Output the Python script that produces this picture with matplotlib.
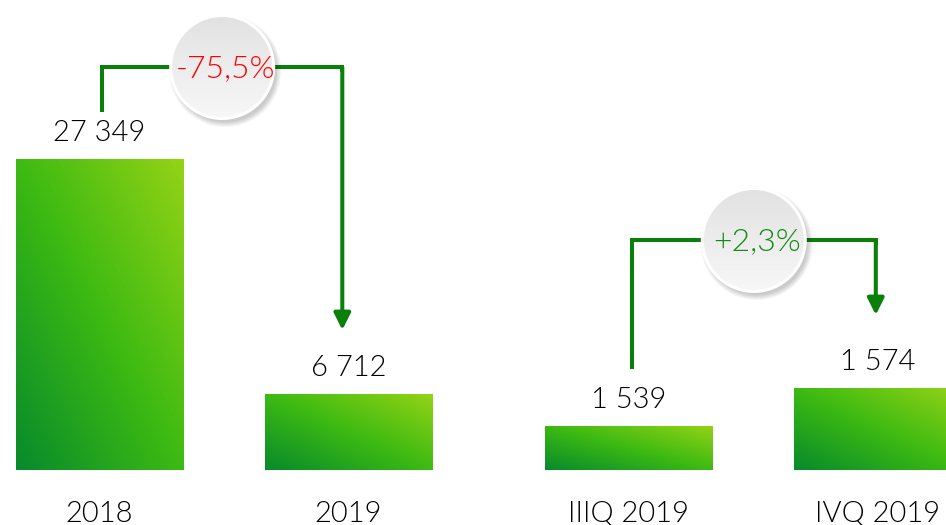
import numpy as np
import matplotlib
matplotlib.use("Agg")
import matplotlib.pyplot as plt
from matplotlib.colors import LinearSegmentedColormap
from matplotlib.patches import Circle

# ---- data ----
categories = ["2018", "2019", "IIIQ 2019", "IVQ 2019"]
annual_values = [27349, 6712]        # left pair
quarter_values = [1539, 1574]        # right pair
change_labels = ["-75,5%", "+2,3%"]
change_colors = ["#ff0000", "#148a14"]

FONT = "Lato"
WEIGHT = 300
W, H, DPI = 946, 525, 100
fig = plt.figure(figsize=(W / DPI, H / DPI), dpi=DPI)
ax_bottom_px = 470
ax = fig.add_axes([0, (H - ax_bottom_px) / H, 1, ax_bottom_px / H])
ax2 = ax.twinx()

xpos = np.array([0.0, 1.0, 2.124, 3.124])
bw = 0.671
ax.set_xlim(-0.4, 3.4)
ax.set_ylim(0, 41300)
ax2.set_ylim(1498, 1934.5)

cmap = LinearSegmentedColormap.from_list(
    "g", [(0, "#078a2c"), (0.5, "#3dba12"), (1, "#95d316")])
uu, vv = np.meshgrid(np.linspace(0, 1, 200), np.linspace(0, 1, 200))
grad = (uu + vv) / 2


def gradient_bars(a, xs, vals, base):
    bars = a.bar(xs, np.array(vals) - base, bottom=base, width=bw,
                 facecolor="none", edgecolor="none")
    for b in bars:
        x0, y0 = b.get_x(), b.get_y()
        im = a.imshow(grad, cmap=cmap, origin="lower", aspect="auto",
                      extent=(x0, x0 + b.get_width(), y0, y0 + b.get_height()),
                      vmin=0, vmax=1, zorder=1)
        im.set_clip_path(b)
    for xv, v in zip(xs, vals):
        a.annotate(f"{v:,}".replace(",", " "), xy=(xv, v), xytext=(0, 13),
                   textcoords="offset points", ha="center", va="baseline",
                   fontsize=21, family=FONT, fontweight=WEIGHT, color="#000000")


gradient_bars(ax, xpos[:2], annual_values, 0)
gradient_bars(ax2, xpos[2:], quarter_values, 1498)
ax.set_xlim(-0.4, 3.4)
ax.set_ylim(0, 41300)
ax2.set_ylim(1498, 1934.5)

ax.set_xticks(xpos, categories)
ax.tick_params(axis="x", length=0, pad=22, labelsize=21, labelcolor="#000000")
for lab in ax.get_xticklabels():
    lab.set_family(FONT)
    lab.set_fontweight(WEIGHT)
ax.set_yticks([])
ax2.set_yticks([])
for a in (ax, ax2):
    for s in a.spines.values():
        s.set_visible(False)
    a.patch.set_visible(False)

# ---- connector brackets (x in data, y in axes fraction) ----
line_col = "#0a7f0a"
tr = ax.get_xaxis_transform()
brackets = [
    (xpos[0] + 0.01, xpos[1] - 0.025, 0.7617, 0.8574, 0.2979),
    (xpos[2] + 0.014, xpos[3] - 0.006, 0.2149, 0.4894, 0.3298),
]
centers = []
for xa, xb, ys, yh, yt in brackets:
    ax.plot([xa, xa, xb, xb], [ys, yh, yh, yh - 0.01], transform=tr,
            color=line_col, lw=2.9, solid_joinstyle="miter",
            solid_capstyle="butt", zorder=3)
    ax.annotate("", xy=(xb, yt), xytext=(xb, yh), xycoords=tr, textcoords=tr,
                arrowprops=dict(arrowstyle="-|>,head_length=0.5,head_width=0.25",
                                mutation_scale=20, lw=2.9, color=line_col,
                                shrinkA=0, shrinkB=0), zorder=3)
    dx, dy = tr.transform(((xa + xb) / 2, yh))
    centers.append((dx, H - dy))

# ---- badges in pixel overlay ----
ov = fig.add_axes([0, 0, 1, 1])
ov.set_xlim(0, W)
ov.set_ylim(H, 0)
ov.axis("off")
ov.patch.set_visible(False)
badge_cmap = LinearSegmentedColormap.from_list("b", ["#e2e2e2", "#f7f7f7"])
R = 50
for (cx, cy), lab, col in zip(centers, change_labels, change_colors):
    for k in range(6):
        ov.add_patch(Circle((cx + 3, cy + 4), R + 6 - k, color="black",
                            alpha=0.035, lw=0, zorder=1))
    ov.add_patch(Circle((cx, cy), R + 3, color="white", lw=0, zorder=2))
    clip = Circle((cx, cy), R, facecolor="none", lw=0, zorder=3)
    ov.add_patch(clip)
    gy = np.linspace(0, 1, 100)[:, None] * np.ones((1, 2))
    im = ov.imshow(gy, cmap=badge_cmap, extent=(cx - R, cx + R, cy + R, cy - R),
                   origin="upper", aspect="auto", zorder=3, vmin=0, vmax=1)
    im.set_clip_path(clip)
    ov.text(cx + 3, cy + 2, lab, ha="center", va="center", fontsize=23,
            family=FONT, fontweight=WEIGHT, color=col, zorder=4)
ov.set_xlim(0, W)
ov.set_ylim(H, 0)

fig.savefig("out.png", dpi=DPI)
